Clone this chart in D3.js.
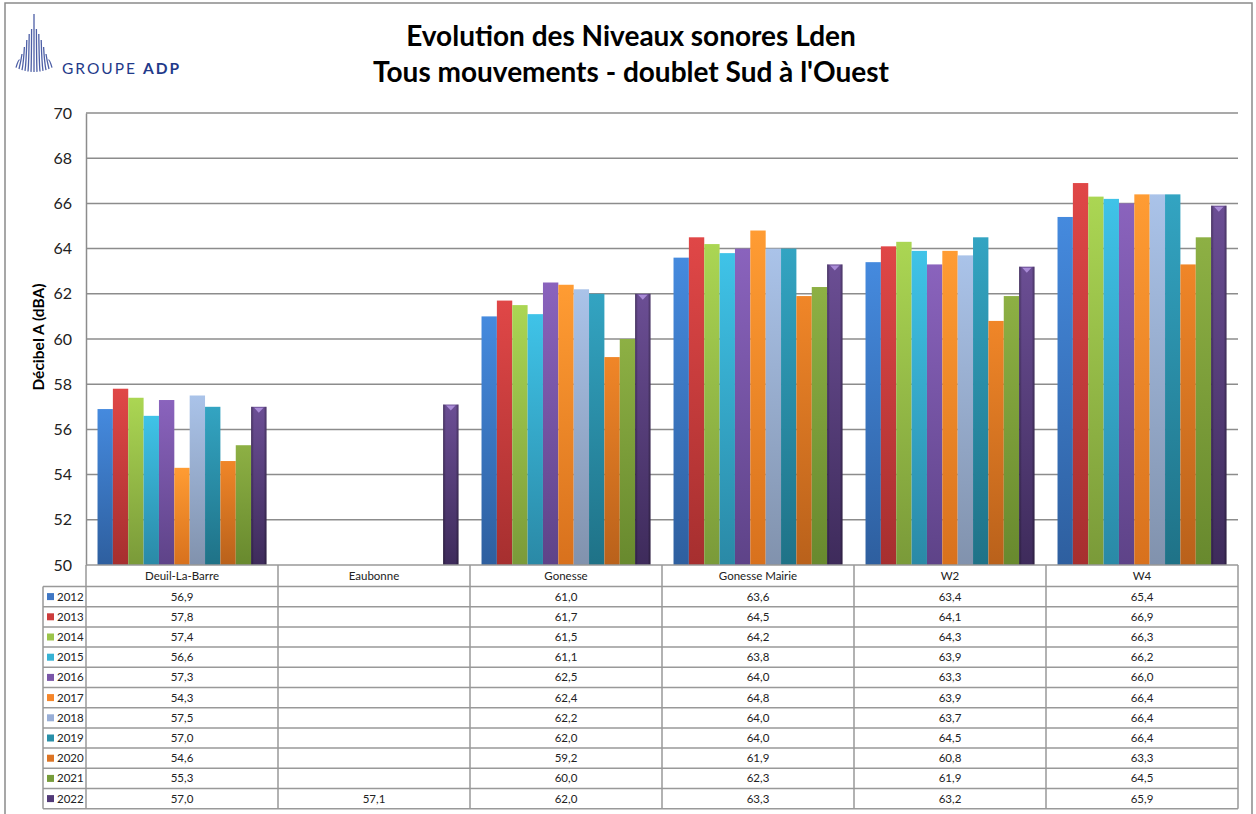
<!DOCTYPE html>
<html>
<head>
<meta charset="utf-8">
<script src="https://cdn.jsdelivr.net/npm/d3@7"></script>
<style>
  body { margin: 0; background: #fff; }
</style>
</head>
<body>
<div id="chart"></div>
<script>
// data
const categories = ["Deuil-La-Barre", "Eaubonne", "Gonesse", "Gonesse Mairie", "W2", "W4"];
const years = ["2012", "2013", "2014", "2015", "2016", "2017", "2018", "2019", "2020", "2021", "2022"];
const lden2012 = [56.9, null, 61.0, 63.6, 63.4, 65.4];
const lden2013 = [57.8, null, 61.7, 64.5, 64.1, 66.9];
const lden2014 = [57.4, null, 61.5, 64.2, 64.3, 66.3];
const lden2015 = [56.6, null, 61.1, 63.8, 63.9, 66.2];
const lden2016 = [57.3, null, 62.5, 64.0, 63.3, 66.0];
const lden2017 = [54.3, null, 62.4, 64.8, 63.9, 66.4];
const lden2018 = [57.5, null, 62.2, 64.0, 63.7, 66.4];
const lden2019 = [57.0, null, 62.0, 64.0, 64.5, 66.4];
const lden2020 = [54.6, null, 59.2, 61.9, 60.8, 63.3];
const lden2021 = [55.3, null, 60.0, 62.3, 61.9, 64.5];
const lden2022 = [57.0, 57.1, 62.0, 63.3, 63.2, 65.9];
const series = [lden2012, lden2013, lden2014, lden2015, lden2016, lden2017,
                lden2018, lden2019, lden2020, lden2021, lden2022];
const yTicks = [50, 52, 54, 56, 58, 60, 62, 64, 66, 68, 70];

// colours: key / top of gradient / bottom of gradient
const keyColors = ["#3f77c4", "#cc3c3c", "#9bc44a", "#37b2d4", "#7a56a8", "#f5862a",
                   "#98aed6", "#288fa8", "#dc7424", "#779c3a", "#523a78"];
const topColors = ["#458ade", "#e04747", "#abd653", "#3fc3e8", "#8a63bd", "#ff9c33",
                   "#aac3e9", "#33a4c2", "#f08628", "#8db044", "#6b4e94"];
const botColors = ["#2e5f9f", "#a62f2f", "#7a9a39", "#2a89a6", "#5e4388", "#d8711d",
                   "#8192ad", "#1f7287", "#b9611b", "#68892e", "#3e2b5b"];

const width = 1256, height = 814;
const plotLeft = 86, plotRight = 1238, plotTop = 113, plotBottom = 565;
const rowH = 20.2, headH = 21.5, legendLeft = 43;

const fmt = d3.formatLocale({decimal: ",", thousands: " ", grouping: [3], currency: ["", "€"]}).format(".1f");

const svg = d3.select("#chart").append("svg")
    .attr("width", width)
    .attr("height", height);

// gradients
const defs = svg.append("defs");
years.forEach((y, i) => {
    const g = defs.append("linearGradient")
        .attr("id", "grad" + i)
        .attr("x1", 0).attr("y1", 0).attr("x2", 0).attr("y2", 1);
    g.append("stop").attr("offset", "0%").attr("stop-color", topColors[i]);
    g.append("stop").attr("offset", "100%").attr("stop-color", botColors[i]);
});
const bevel = defs.append("linearGradient")
    .attr("id", "bevel")
    .attr("x1", 0).attr("y1", 0).attr("x2", 1).attr("y2", 0);
bevel.append("stop").attr("offset", "0%").attr("stop-color", "#000").attr("stop-opacity", 0.35);
bevel.append("stop").attr("offset", "18%").attr("stop-color", "#000").attr("stop-opacity", 0);
bevel.append("stop").attr("offset", "82%").attr("stop-color", "#000").attr("stop-opacity", 0);
bevel.append("stop").attr("offset", "100%").attr("stop-color", "#000").attr("stop-opacity", 0.35);

// background + outer frame
svg.append("rect")
    .attr("x", 5).attr("y", 3)
    .attr("width", 1247).attr("height", 830)
    .attr("fill", "#fff")
    .attr("stroke", "#8a8a8a")
    .attr("stroke-width", 1.5);

// logo
const logo = svg.append("g").attr("stroke", "#4d5fa6").attr("stroke-width", 1.3).attr("fill", "none");
const fanTops = [14, 29, 34, 40, 47, 54, 60];
d3.range(-6, 7).forEach(k => {
    const a = Math.abs(k);
    const topY = fanTops[a];
    const botY = 72 - a * a * 0.12;
    logo.append("path")
        .attr("d", "M" + (34 + k * 2.4) + "," + topY +
                   " Q" + (34 + k * 2.6) + "," + (botY - 8) + " " + (34 + k * 3.0) + "," + botY);
});
svg.append("text")
    .attr("x", 62).attr("y", 74)
    .attr("font-family", "Lato, sans-serif")
    .attr("font-size", "15.5px")
    .attr("letter-spacing", "2px")
    .attr("fill", "#1f3a8a")
    .html('GROUPE <tspan font-weight="bold">ADP</tspan>');

// title
svg.append("text")
    .attr("x", 631).attr("y", 46)
    .attr("font-family", "Lato, sans-serif")
    .attr("font-size", "28px")
    .attr("font-weight", "bold")
    .style("text-anchor", "middle")
    .attr("fill", "#000")
    .text("Evolution des Niveaux sonores Lden");
svg.append("text")
    .attr("x", 631).attr("y", 82)
    .attr("font-family", "Lato, sans-serif")
    .attr("font-size", "28px")
    .attr("font-weight", "bold")
    .style("text-anchor", "middle")
    .attr("fill", "#000")
    .text("Tous mouvements - doublet Sud à l'Ouest");

// scales
const y = d3.scaleLinear().domain([50, 70]).range([plotBottom, plotTop]);
const x0 = d3.scaleBand().domain(categories).range([plotLeft, plotRight]);
const x1 = d3.scaleBand().domain(years).range([0, x0.bandwidth()]).paddingOuter(0.75).paddingInner(0);

// gridlines
svg.append("g")
    .selectAll("line")
    .data(yTicks.slice(1))
    .join("line")
    .attr("x1", plotLeft).attr("x2", plotRight)
    .attr("y1", d => y(d)).attr("y2", d => y(d))
    .attr("stroke", "#8c8c8c")
    .attr("stroke-width", 1.5);

// y axis
const yAxis = svg.append("g")
    .attr("transform", "translate(" + plotLeft + ",0)")
    .call(d3.axisLeft(y).tickValues(yTicks).tickSize(0).tickPadding(14));
yAxis.select(".domain").attr("stroke", "#8c8c8c").attr("stroke-width", 1.5);
yAxis.selectAll("text")
    .attr("font-family", "Lato, sans-serif")
    .attr("font-size", "16px")
    .attr("fill", "#222");

svg.append("text")
    .attr("transform", "translate(44," + ((plotTop + plotBottom) / 2 - 2) + ") rotate(-90)")
    .attr("font-family", "Lato, sans-serif")
    .attr("font-size", "15.5px")
    .attr("font-weight", "bold")
    .style("text-anchor", "middle")
    .attr("fill", "#000")
    .text("Décibel A (dBA)");

// bars
const groups = svg.append("g")
    .selectAll("g")
    .data(categories)
    .join("g")
    .attr("transform", d => "translate(" + x0(d) + ",0)");

groups.each(function (cat, ci) {
    const g = d3.select(this);
    years.forEach((yr, si) => {
        const v = series[si][ci];
        if (v == null) return;
        const bx = x1(yr), bw = x1.bandwidth();
        g.append("rect")
            .attr("x", bx).attr("y", y(v))
            .attr("width", bw).attr("height", y(50) - y(v))
            .attr("fill", "url(#grad" + si + ")");
        if (si === years.length - 1) {
            g.append("rect")
                .attr("x", bx).attr("y", y(v))
                .attr("width", bw).attr("height", y(50) - y(v))
                .attr("fill", "url(#bevel)");
            g.append("path")
                .attr("d", "M" + (bx + 3) + "," + (y(v) + 1) + " L" + (bx + bw - 3) + "," + (y(v) + 1) +
                           " L" + (bx + bw / 2) + "," + (y(v) + 6) + " Z")
                .attr("fill", "#a98bd6");
        }
    });
});

// data table
const table = svg.append("g");
const tableBottom = plotBottom + headH + rowH * years.length;

table.append("line")
    .attr("x1", plotLeft).attr("x2", plotRight)
    .attr("y1", plotBottom).attr("y2", plotBottom)
    .attr("stroke", "#999").attr("stroke-width", 1.5);
const rowYs = years.map((d, i) => plotBottom + headH + rowH * i);
table.selectAll(".hl")
    .data(rowYs.concat([tableBottom]))
    .join("line")
    .attr("x1", legendLeft).attr("x2", plotRight)
    .attr("y1", d => d).attr("y2", d => d)
    .attr("stroke", "#999").attr("stroke-width", 1.5);
table.selectAll(".vl")
    .data(categories.map(c => x0(c)).concat([plotRight]))
    .join("line")
    .attr("x1", d => d).attr("x2", d => d)
    .attr("y1", plotBottom).attr("y2", tableBottom)
    .attr("stroke", "#999").attr("stroke-width", 1.5);
table.append("line")
    .attr("x1", legendLeft).attr("x2", legendLeft)
    .attr("y1", plotBottom + headH).attr("y2", tableBottom)
    .attr("stroke", "#999").attr("stroke-width", 1.5);

// category headers
table.selectAll(".cat")
    .data(categories)
    .join("text")
    .attr("x", d => x0(d) + x0.bandwidth() / 2)
    .attr("y", plotBottom + headH / 2 + 4)
    .attr("font-family", "Lato, sans-serif")
    .attr("font-size", "11.5px")
    .style("text-anchor", "middle")
    .attr("fill", "#222")
    .text(d => d);

// legend keys and values
years.forEach((yr, si) => {
    const ry = rowYs[si];
    table.append("rect")
        .attr("x", legendLeft + 4).attr("y", ry + rowH / 2 - 3.5)
        .attr("width", 7).attr("height", 7)
        .attr("fill", keyColors[si]);
    table.append("text")
        .attr("x", legendLeft + 14).attr("y", ry + rowH / 2 + 4)
        .attr("font-family", "Lato, sans-serif")
        .attr("font-size", "11.5px")
        .attr("fill", "#222")
        .text(yr);
    categories.forEach((cat, ci) => {
        const v = series[si][ci];
        if (v == null) return;
        table.append("text")
            .attr("x", x0(cat) + x0.bandwidth() / 2)
            .attr("y", ry + rowH / 2 + 4)
            .attr("font-family", "Lato, sans-serif")
            .attr("font-size", "11.5px")
            .style("text-anchor", "middle")
            .attr("fill", "#222")
            .text(fmt(v));
    });
});
</script>
</body>
</html>
